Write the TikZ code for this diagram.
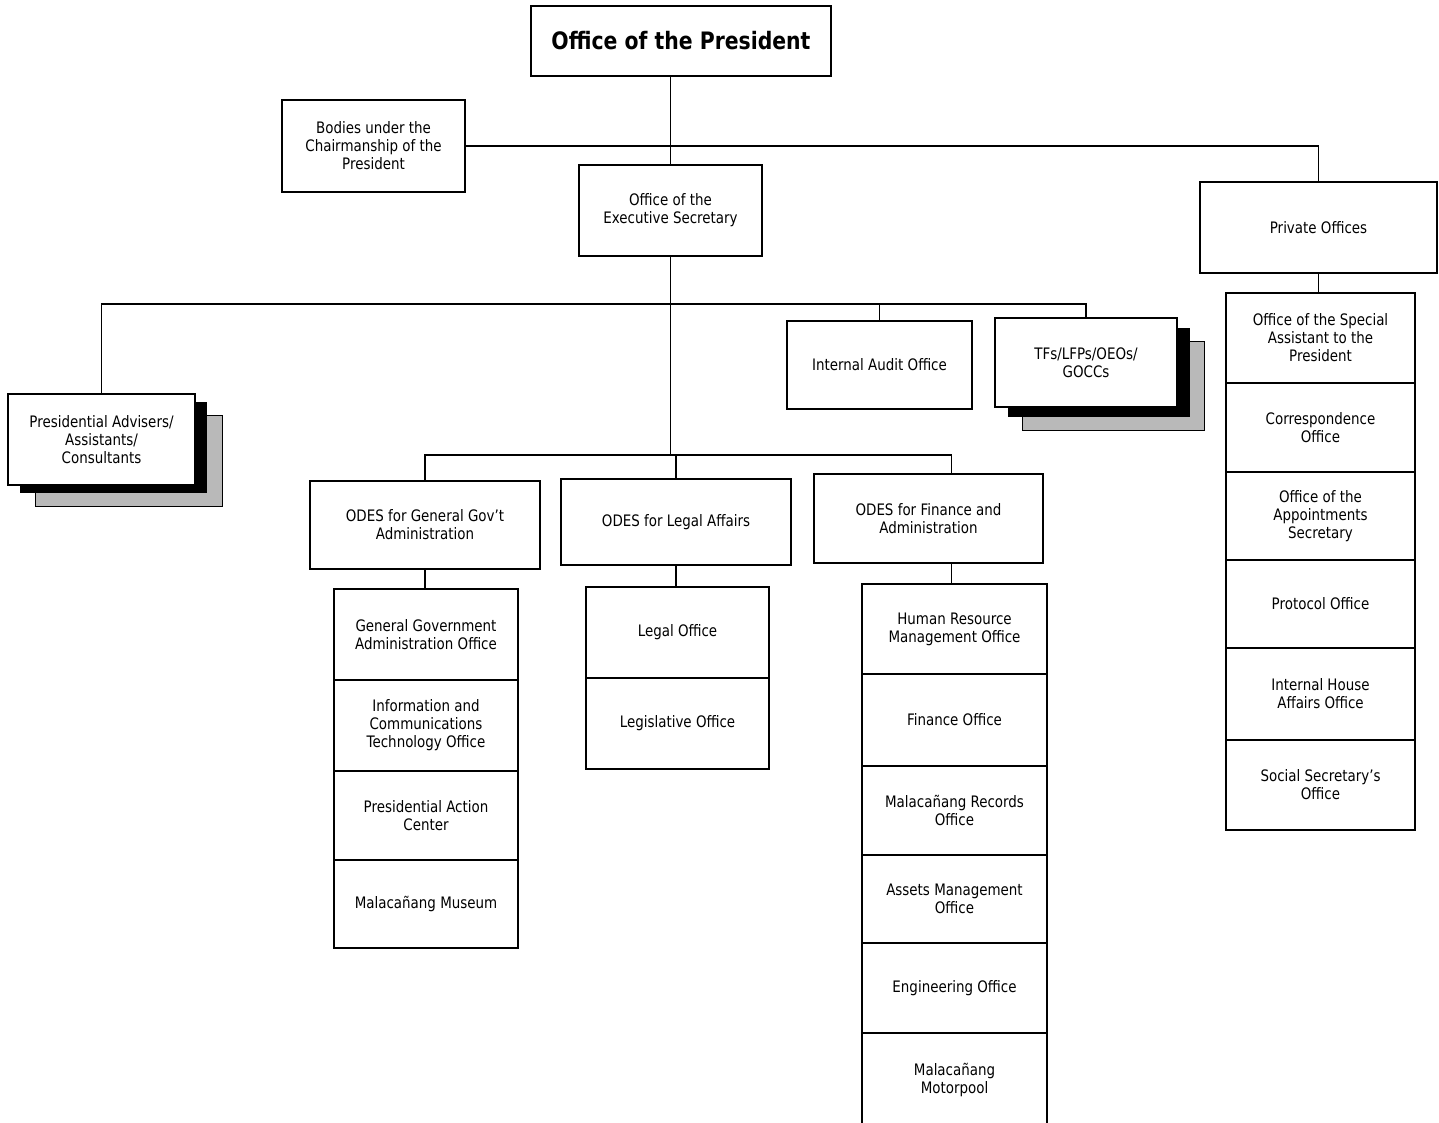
\documentclass[tikz,border=0pt]{standalone}
\usepackage{fontspec}
\setmainfont{DejaVu Sans}[FakeStretch=0.85]
\usetikzlibrary{backgrounds}

\begin{document}
\begin{tikzpicture}[x=1pt, y=-1pt,
        box/.style={draw, line width=1.4pt, fill=white, align=center, inner sep=2pt,
            outer sep=0pt, font=\fontsize{15.8}{18}\selectfont},
        head/.style={box, font=\bfseries\fontsize{24}{26}\selectfont},
        link/.style={line width=1.4pt},
        darkshade/.style={fill=black},
        greyshade/.style={fill=gray!55, draw=black, line width=0.8pt},
        gcol/.style={box, minimum width=184pt},
        lcol/.style={box, minimum width=183pt},
        fcol/.style={box, minimum width=185pt},
        pcol/.style={box, minimum width=189pt}]
        \useasboundingbox (0,0) rectangle (1439,1122);
        \clip (0,0) rectangle (1439,1122);

        \node[head, minimum width=300pt, minimum height=70pt] (pres)   at (681, 41)      {Office of the President};
        \node[box,  minimum width=183pt, minimum height=92pt] (bodies) at (373.5, 146)   {Bodies under the\\Chairmanship of the\\President};
        \node[box,  minimum width=183pt, minimum height=91pt] (oes)    at (670.5, 210.5) {Office of the\\Executive Secretary};
        \node[box,  minimum width=237pt, minimum height=91pt] (priv)   at (1318.5, 227.5) {Private Offices};
        \node[box,  minimum width=187pt, minimum height=91pt] (adv)    at (101.5, 439.5) {Presidential Advisers/\\Assistants/\\Consultants};
        \node[box,  minimum width=185pt, minimum height=88pt] (iao)    at (879.5, 365)   {Internal Audit Office};
        \node[box,  minimum width=182pt, minimum height=89pt] (tfs)    at (1086, 362.5)  {TFs/LFPs/OEOs/\\GOCCs};
        \node[box,  minimum width=230pt, minimum height=88pt] (odesg)  at (425, 525)     {ODES for General Gov't\\Administration};
        \node[box,  minimum width=230pt, minimum height=86pt] (odesl)  at (676, 522)     {ODES for Legal Affairs};
        \node[box,  minimum width=229pt, minimum height=89pt] (odesf)  at (928.5, 518.5) {ODES for Finance and\\Administration};

        \node[gcol, minimum height=91pt] (g1) at (426, 634.5) {General Government\\Administration Office};
        \node[gcol, minimum height=91pt] (g2) at (426, 725.5) {Information and\\Communications\\Technology Office};
        \node[gcol, minimum height=89pt] (g3) at (426, 815.5) {Presidential Action\\Center};
        \node[gcol, minimum height=88pt] (g4) at (426, 904)   {Malacañang Museum};

        \node[lcol, minimum height=91pt] (l1) at (677.5, 632.5) {Legal Office};
        \node[lcol, minimum height=91pt] (l2) at (677.5, 723.5) {Legislative Office};

        \node[fcol, minimum height=90pt] (f1) at (954.5, 629)    {Human Resource\\Management Office};
        \node[fcol, minimum height=92pt] (f2) at (954.5, 720)    {Finance Office};
        \node[fcol, minimum height=89pt] (f3) at (954.5, 810.5)  {Malacañang Records\\Office};
        \node[fcol, minimum height=88pt] (f4) at (954.5, 899)    {Assets Management\\Office};
        \node[fcol, minimum height=90pt] (f5) at (954.5, 988)    {Engineering Office};
        \node[fcol, minimum height=93pt] (f6) at (954.5, 1079.5) {Malacañang\\Motorpool};

        \node[pcol, minimum height=90pt] (p1) at (1320.5, 338)   {Office of the Special\\Assistant to the\\President};
        \node[pcol, minimum height=89pt] (p2) at (1320.5, 427.5) {Correspondence\\Office};
        \node[pcol, minimum height=88pt] (p3) at (1320.5, 516)   {Office of the\\Appointments\\Secretary};
        \node[pcol, minimum height=88pt] (p4) at (1320.5, 604)   {Protocol Office};
        \node[pcol, minimum height=92pt] (p5) at (1320.5, 694)   {Internal House\\Affairs Office};
        \node[pcol, minimum height=90pt] (p6) at (1320.5, 785)   {Social Secretary's\\Office};

        \coordinate (bus2) at (0, 304);
        \coordinate (bus3) at (0, 455);

        \draw[link] (pres.south -| oes.north) -- (oes.north);
        \draw[link] (bodies.east) -| (priv.north);
        \draw[link] (oes.south) -- (oes.south |- bus3);
        \draw[link] (adv.north) |- (tfs.north |- bus2) -- (tfs.north);
        \draw[link] (iao.north) -- (iao.north |- bus2);
        \draw[link] (odesg.north) |- ([xshift=23pt]odesf.north |- bus3) -- ([xshift=23pt]odesf.north);
        \draw[link] (odesl.north) -- (odesl.north |- bus3);
        \draw[link] (odesg.south) -- (odesg.south |- g1.north);
        \draw[link] (odesl.south) -- (odesl.south |- l1.north);
        \draw[link] ([xshift=23pt]odesf.south) -- ([xshift=23pt]odesf.south |- f1.north);
        \draw[link] (priv.south) -- (priv.south |- p1.north);

        \begin{scope}[on background layer]
            \filldraw[greyshade] ([shift={(27,21)}]adv.north west) rectangle ([shift={(27,21)}]adv.south east);
            \fill[darkshade]     ([shift={(12,8)}]adv.north west)  rectangle ([shift={(12,8)}]adv.south east);
            \filldraw[greyshade] ([shift={(27,23)}]tfs.north west) rectangle ([shift={(27,23)}]tfs.south east);
            \fill[darkshade]     ([shift={(13,10)}]tfs.north west) rectangle ([shift={(13,10)}]tfs.south east);
        \end{scope}
\end{tikzpicture}
\end{document}
